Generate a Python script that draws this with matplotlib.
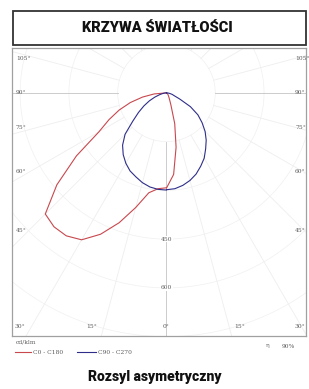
import numpy as np
import matplotlib
matplotlib.use("Agg")
import matplotlib.pyplot as plt
from matplotlib.lines import Line2D
from matplotlib.patches import Rectangle

# photometric data, cd/klm, angle from nadir (deg)
angles = [0, 5, 10, 15, 20, 25, 30, 35, 40, 45, 50, 55, 60, 65, 70, 75, 80, 85, 90]
c0 = [293, 252, 170, 98, 40, 22, 14, 10, 7, 5, 4, 3, 2, 2, 1, 1, 1, 0, 0]
c180 = [292, 296, 312, 365, 425, 480, 522, 537, 538, 527, 440, 338, 240, 195, 155, 115, 75, 38, 0]
c90 = [298, 296, 289, 279, 266, 249, 232, 210, 190, 168, 143, 118, 85, 45, 25, 18, 10, 4, 0]
c270 = [299, 298, 294, 286, 275, 265, 250, 232, 210, 180, 135, 105, 80, 58, 38, 22, 12, 5, 0]

rings = [150, 300, 450, 600, 750, 900, 1050]
ring_labels = [450, 600]
side_labels = ["105°", "90°", "75°", "60°", "45°"]
side_label_y = [59, 92, 128, 172, 231]
bottom_labels = ["30°", "15°", "0°", "15°", "30°"]
bottom_label_x = [20, 92, 166, 240, 300]

title = "KRZYWA ŚWIATŁOŚCI"
caption = "Rozsyl asymetryczny"
W, H = 309, 389

fig = plt.figure(figsize=(W / 100, H / 100), dpi=100)
fig.patch.set_facecolor("white")
heavy = dict(family=["Roboto", "DejaVu Sans"], weight="black")
small = dict(fontsize=4.3, color="#5a5a5a", family="DejaVu Serif")

# title box
fig.patches.append(Rectangle((13 / W, 1 - 45 / H), 293 / W, 34 / H, transform=fig.transFigure,
                             fill=False, edgecolor="#333333", lw=1.3))
fig.text(157 / W, 1 - 28 / H, title, ha="center", va="center", fontsize=10.5, color="#111111", **heavy)

ax = fig.add_axes([12 / W, 1 - 336 / H, 294 / W, 288 / H])
ax.set_xlim(-475, 429)
ax.set_ylim(-748, 138)
ax.set_xticks([])
ax.set_yticks([])
for s in ax.spines.values():
    s.set_color("#a0a0a0")
    s.set_linewidth(0.9)

# grid
t = np.linspace(0, 2 * np.pi, 400)
for r in rings:
    ax.plot(r * np.cos(t), r * np.sin(t), color="#f0f0f0", lw=0.5, zorder=1)
for a in range(0, 360, 15):
    ar = np.radians(a)
    col = "#c4c4c4" if a in (0, 90, 270) else "#eeeeee"
    ax.plot([150 * np.sin(ar), 2000 * np.sin(ar)], [-150 * np.cos(ar), -2000 * np.cos(ar)],
            color=col, lw=0.6, zorder=1)
for v in ring_labels:
    ax.text(0, -v, str(v), ha="center", va="center", bbox=dict(fc="white", ec="none", pad=0.5), zorder=2, **small)

# curves
th = np.radians(angles)
def xy(vals, sign):
    v = np.array(vals, dtype=float)
    return sign * v * np.sin(th), -v * np.cos(th)

xr = np.concatenate([xy(c180, -1)[0][::-1], xy(c0, 1)[0]])
yr = np.concatenate([xy(c180, -1)[1][::-1], xy(c0, 1)[1]])
xb = np.concatenate([xy(c270, -1)[0][::-1], xy(c90, 1)[0]])
yb = np.concatenate([xy(c270, -1)[1][::-1], xy(c90, 1)[1]])
ax.plot(xr, yr, color="#c8484e", lw=0.8, zorder=3)
ax.plot(xb, yb, color="#2e2e8a", lw=0.8, zorder=3)

# angle labels
for lab, py in zip(side_labels, side_label_y):
    fig.text(16 / W, 1 - py / H, lab, ha="left", va="center", **small)
    fig.text(295 / W, 1 - py / H, lab, ha="left", va="center", **small)
for lab, px in zip(bottom_labels, bottom_label_x):
    fig.text(px / W, 1 - 326 / H, lab, ha="center", va="center", **small)

# legend
fig.text(16 / W, 1 - 342 / H, "cd/klm", ha="left", va="center", **small)
fig.add_artist(Line2D([15 / W, 31 / W], [1 - 352 / H] * 2, color="#c8484e", lw=0.8))
fig.text(33 / W, 1 - 352 / H, "C0 - C180", ha="left", va="center", **small)
fig.add_artist(Line2D([77 / W, 96 / W], [1 - 352 / H] * 2, color="#2e2e8a", lw=0.8))
fig.text(98 / W, 1 - 352 / H, "C90 - C270", ha="left", va="center", **small)
fig.text(266 / W, 1 - 346 / H, "η", ha="left", va="center", **small)
fig.text(282 / W, 1 - 346 / H, "90%", ha="left", va="center", **small)

fig.text(155 / W, 1 - 377 / H, caption, ha="center", va="center", fontsize=10, color="#111111", **heavy)

fig.savefig("out.png", dpi=100)
